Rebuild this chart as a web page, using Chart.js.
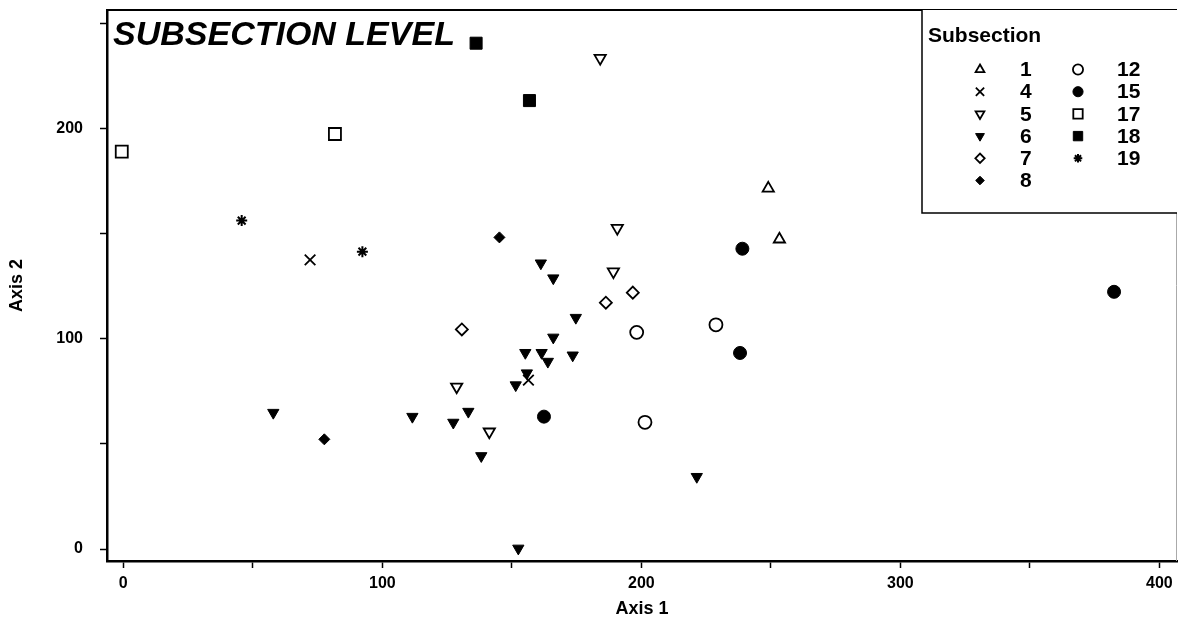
<!DOCTYPE html>
<html>
<head>
<meta charset="utf-8">
<script src="https://cdn.jsdelivr.net/npm/chart.js"></script>
<style>
  html, body { margin: 0; padding: 0; background: #fff; }
  #wrap { width: 1179px; height: 624px; }
</style>
</head>
<body>
<div id="wrap"><canvas id="c" width="1179" height="624"></canvas></div>
<script>
// ---- data ----
const chartTitle = 'SUBSECTION LEVEL';
const legendTitle = 'Subsection';
const xTitle = 'Axis 1';
const yTitle = 'Axis 2';
const xTickValues = [0, 50, 100, 150, 200, 250, 300, 350, 400];
const xTickLabels = ['0', '', '100', '', '200', '', '300', '', '400'];
const yTickValues = [0, 50, 100, 150, 200, 250];
const yTickLabels = ['0', '', '100', '', '200', ''];

const sub1  = [[249.0, 171.6], [253.3, 147.4]];
const sub4  = [[72.1, 137.6], [156.4, 80.4]];
const sub5  = [[184.1, 233.6], [190.7, 152.7], [189.2, 132.0], [128.7, 77.2], [141.3, 55.8]];
const sub6  = [[161.2, 136.0], [166.0, 128.9], [174.7, 110.1], [166.0, 100.7], [155.2, 93.4],
               [161.5, 93.4], [163.9, 89.2], [173.5, 92.2], [155.8, 83.7], [151.5, 78.0],
               [133.2, 65.4], [127.4, 60.2], [111.6, 63.0], [138.2, 44.3], [221.4, 34.4],
               [57.9, 64.9], [152.5, 0.3]];
const sub7  = [[130.7, 104.5], [186.3, 117.2], [196.7, 122.0]];
const sub8  = [[145.2, 148.3], [77.6, 52.2]];
const sub12 = [[198.2, 103.1], [201.4, 60.3], [228.8, 106.7]];
const sub15 = [[162.4, 63.0], [239.0, 142.9], [238.1, 93.3], [382.5, 122.4]];
const sub17 = [[-0.6, 189.1], [81.7, 197.5]];
const sub18 = [[136.2, 240.7], [156.8, 213.4]];
const sub19 = [[45.7, 156.3], [92.3, 141.5]];

const seriesLabels = ['1', '4', '5', '6', '7', '8', '12', '15', '17', '18', '19'];
const seriesData = [sub1, sub4, sub5, sub6, sub7, sub8, sub12, sub15, sub17, sub18, sub19];

// ---- marker styles ----
const markerStyles = [
  { pointStyle: 'triangle', rotation: 0,   radius: 6.5, filled: false, bw: 1.8 },
  { pointStyle: 'crossRot', rotation: 0,   radius: 7.5, filled: false, bw: 1.8 },
  { pointStyle: 'triangle', rotation: 180, radius: 6.5, filled: false, bw: 1.8 },
  { pointStyle: 'triangle', rotation: 180, radius: 6.5, filled: true,  bw: 1 },
  { pointStyle: 'rectRot',  rotation: 0,   radius: 6,   filled: false, bw: 1.8 },
  { pointStyle: 'rectRot',  rotation: 0,   radius: 5.5, filled: true,  bw: 1 },
  { pointStyle: 'circle',   rotation: 0,   radius: 6.5, filled: false, bw: 1.8 },
  { pointStyle: 'circle',   rotation: 0,   radius: 6.5, filled: true,  bw: 1 },
  { pointStyle: 'rect',     rotation: 0,   radius: 8.5, filled: false, bw: 1.8 },
  { pointStyle: 'rect',     rotation: 0,   radius: 8.5, filled: true,  bw: 1 },
  { pointStyle: 'star',     rotation: 0,   radius: 5.5, filled: false, bw: 2 }
];

const FONT = "'Liberation Sans', Arial, sans-serif";

const datasets = seriesData.map((arr, i) => {
  const m = markerStyles[i];
  return {
    label: seriesLabels[i],
    data: arr.map(p => ({ x: p[0], y: p[1] })),
    pointStyle: m.pointStyle,
    rotation: m.rotation,
    pointRadius: m.radius,
    pointBorderWidth: m.bw,
    pointBorderColor: '#000',
    pointBackgroundColor: m.filled ? '#000' : '#fff',
    borderColor: '#000',
    backgroundColor: m.filled ? '#000' : '#fff',
    showLine: false
  };
});

function drawMarker(ctx, m, x, y, scale) {
  ctx.save();
  ctx.fillStyle = m.filled ? '#000' : '#fff';
  ctx.strokeStyle = '#000';
  ctx.lineWidth = m.bw;
  Chart.helpers.drawPoint(ctx, {
    pointStyle: m.pointStyle, rotation: m.rotation,
    radius: m.radius * scale, borderWidth: m.bw
  }, x, y);
  ctx.restore();
}

function zeroPad(s) {
  s.paddingTop = 0; s.paddingBottom = 0; s.paddingLeft = 0; s.paddingRight = 0;
}

const framePlugin = {
  id: 'frame',
  afterDraw(chart) {
    const { ctx, chartArea: a } = chart;
    ctx.save();
    // top frame line
    ctx.strokeStyle = '#000';
    ctx.lineWidth = 2;
    ctx.beginPath();
    ctx.moveTo(a.left, a.top);
    ctx.lineTo(a.right, a.top);
    ctx.stroke();
    // faint right frame
    ctx.strokeStyle = '#aaa';
    ctx.lineWidth = 1;
    ctx.beginPath();
    ctx.moveTo(a.right - 0.5, a.top);
    ctx.lineTo(a.right - 0.5, a.bottom);
    ctx.stroke();

    // chart title inside plot
    ctx.fillStyle = '#000';
    ctx.font = "italic bold 34px " + FONT;
    ctx.textBaseline = 'alphabetic';
    ctx.textAlign = 'left';
    ctx.fillText(chartTitle, a.left + 6, a.top + 35);

    // legend box
    const bx = a.right - 255, by = a.top, bh = 203;
    ctx.fillStyle = '#fff';
    ctx.fillRect(bx, by, a.right - bx, bh);
    ctx.strokeStyle = '#000';
    ctx.lineWidth = 1.5;
    ctx.beginPath();
    ctx.moveTo(bx, by);
    ctx.lineTo(bx, by + bh);
    ctx.lineTo(a.right, by + bh);
    ctx.stroke();

    ctx.fillStyle = '#000';
    ctx.font = "bold 21px " + FONT;
    ctx.textBaseline = 'middle';
    ctx.fillText(legendTitle, bx + 6, by + 26);

    const rowH = 22.2, row0 = by + 59.5;
    ctx.font = "bold 21px " + FONT;
    seriesLabels.forEach((lab, i) => {
      const col = i < 6 ? 0 : 1;
      const row = i < 6 ? i : i - 6;
      const mx = bx + (col === 0 ? 58 : 156);
      const tx = bx + (col === 0 ? 98 : 195);
      const y = row0 + row * rowH;
      drawMarker(ctx, markerStyles[i], mx, y, 0.78);
      ctx.fillStyle = '#000';
      ctx.textBaseline = 'middle';
      ctx.textAlign = 'left';
      ctx.fillText(lab, tx, y + 1);
    });
    ctx.restore();
  }
};

new Chart(document.getElementById('c'), {
  type: 'scatter',
  data: { datasets },
  options: {
    responsive: false,
    devicePixelRatio: 1,
    animation: false,
    layout: { autoPadding: false, padding: { top: 10, right: 2, left: 0, bottom: 0 } },
    plugins: {
      legend: { display: false },
      tooltip: { enabled: false },
      title: { display: false }
    },
    scales: {
      x: {
        type: 'linear',
        min: -6.3,
        max: 406.8,
        afterFit: s => { s.height = 63; zeroPad(s); },
        afterBuildTicks: s => { s.ticks = xTickValues.map(v => ({ value: v })); },
        border: { display: true, color: '#000', width: 2.5 },
        grid: { display: true, drawOnChartArea: false, drawTicks: true, tickLength: 7, color: '#000', tickWidth: 1.5 },
        ticks: {
          color: '#000', padding: 6, maxRotation: 0, autoSkip: false,
          font: { family: FONT, size: 16, weight: 'bold' },
          callback: v => { const i = xTickValues.indexOf(v); return i >= 0 ? xTickLabels[i] : ''; }
        },
        title: {
          display: true, text: xTitle, color: '#000',
          font: { family: FONT, size: 18, weight: 'bold' },
          padding: { top: 0, bottom: 4 }
        }
      },
      y: {
        type: 'linear',
        min: -5.7,
        max: 256.5,
        afterFit: s => { s.width = 107; zeroPad(s); },
        afterBuildTicks: s => { s.ticks = yTickValues.map(v => ({ value: v })); },
        border: { display: true, color: '#000', width: 2.5 },
        grid: { display: true, drawOnChartArea: false, drawTicks: true, tickLength: 7, color: '#000', tickWidth: 1.5 },
        ticks: {
          color: '#000', padding: 17, autoSkip: false,
          font: { family: FONT, size: 16, weight: 'bold' },
          callback: v => { const i = yTickValues.indexOf(v); return i >= 0 ? yTickLabels[i] : ''; }
        },
        title: {
          display: true, text: yTitle, color: '#000',
          font: { family: FONT, size: 18, weight: 'bold' },
          padding: { top: 6, bottom: 0 }
        }
      }
    }
  },
  plugins: [framePlugin]
});
</script>
</body>
</html>
